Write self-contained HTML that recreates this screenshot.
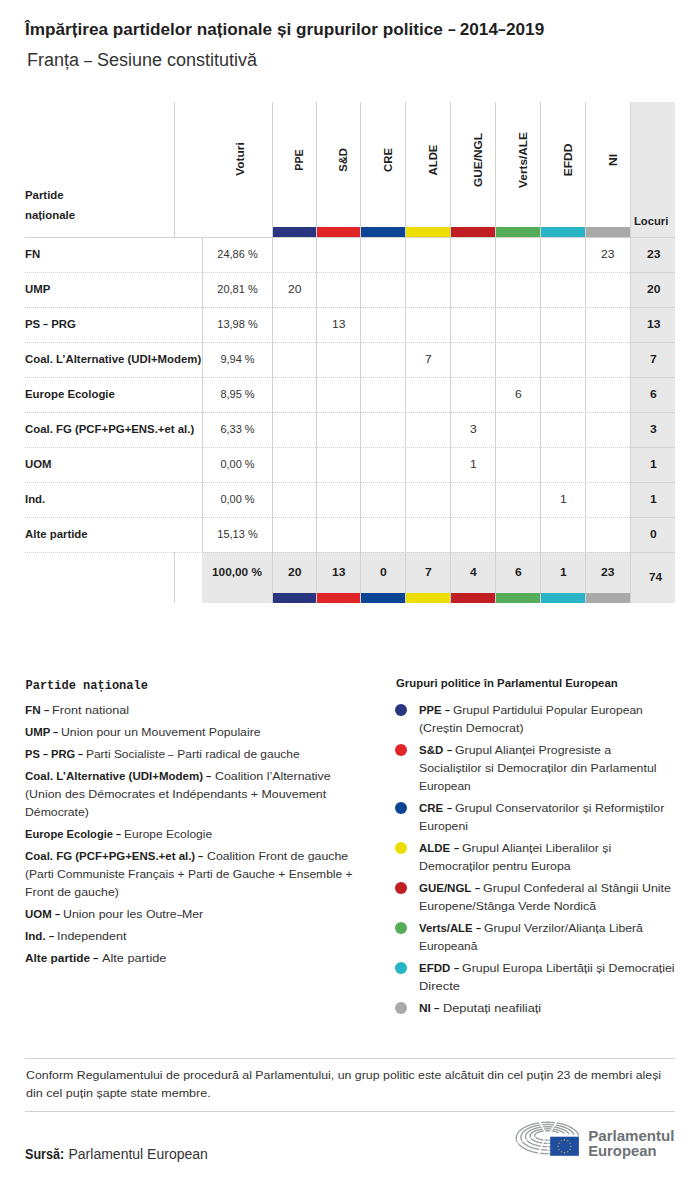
<!DOCTYPE html>
<html><head><meta charset="utf-8"><style>
html,body{margin:0;padding:0;background:#fff;}
body{width:700px;height:1179px;position:relative;overflow:hidden;font-family:"Liberation Sans", sans-serif;}
.t{position:absolute;white-space:nowrap;line-height:1;}
.r{position:absolute;}
.g{display:inline-block;white-space:pre;vertical-align:baseline;}
.i{display:inline-block;white-space:pre;transform-origin:0 0;}
</style></head><body>
<div class="t" style="left:25.00px;top:20.61px;font-size:17px;"><span class="g" style="width:422.66px;font-size:17px;font-weight:700;color:#1f1f1f;font-family:'Liberation Sans', sans-serif"><span class="i" style="transform:scaleX(1.0100)">Împărțirea partidelor naționale și grupurilor politice </span></span><span class="g" style="width:7.64px;font-size:17px;font-weight:700;color:#1f1f1f;font-family:'Liberation Sans', sans-serif"><span class="i" style="transform:scaleX(0.8080)">–</span></span><span class="g" style="width:42.97px;font-size:17px;font-weight:700;color:#1f1f1f;font-family:'Liberation Sans', sans-serif"><span class="i" style="transform:scaleX(1.0100)"> 2014</span></span><span class="g" style="width:7.64px;font-size:17px;font-weight:700;color:#1f1f1f;font-family:'Liberation Sans', sans-serif"><span class="i" style="transform:scaleX(0.8080)">–</span></span><span class="g" style="width:38.20px;font-size:17px;font-weight:700;color:#1f1f1f;font-family:'Liberation Sans', sans-serif"><span class="i" style="transform:scaleX(1.0100)">2019</span></span></div>
<div class="t" style="left:27.00px;top:51.36px;font-size:18px;"><span class="g" style="width:57.02px;font-size:18px;font-weight:400;color:#333333;font-family:'Liberation Sans', sans-serif"><span class="i" style="transform:scaleX(0.9999)">Franța </span></span><span class="g" style="width:8.01px;font-size:18px;font-weight:400;color:#333333;font-family:'Liberation Sans', sans-serif"><span class="i" style="transform:scaleX(0.7999)">–</span></span><span class="g" style="width:165.08px;font-size:18px;font-weight:400;color:#333333;font-family:'Liberation Sans', sans-serif"><span class="i" style="transform:scaleX(0.9999)"> Sesiune constitutivă</span></span></div>
<div class="r" style="left:630px;top:102px;width:45px;height:501px;background:#e8e8e8;"></div>
<div class="r" style="left:202px;top:552px;width:428px;height:51px;background:#e8e8e8;"></div>
<div class="r" style="left:174px;top:102px;width:1px;height:135px;background:#d2d2d2;"></div>
<div class="r" style="left:272px;top:102px;width:1px;height:501px;background:#d2d2d2;"></div>
<div class="r" style="left:316px;top:102px;width:1px;height:501px;background:#d2d2d2;"></div>
<div class="r" style="left:360px;top:102px;width:1px;height:501px;background:#d2d2d2;"></div>
<div class="r" style="left:405px;top:102px;width:1px;height:501px;background:#d2d2d2;"></div>
<div class="r" style="left:450px;top:102px;width:1px;height:501px;background:#d2d2d2;"></div>
<div class="r" style="left:495px;top:102px;width:1px;height:501px;background:#d2d2d2;"></div>
<div class="r" style="left:540px;top:102px;width:1px;height:501px;background:#d2d2d2;"></div>
<div class="r" style="left:585px;top:102px;width:1px;height:501px;background:#d2d2d2;"></div>
<div class="r" style="left:630px;top:102px;width:1px;height:501px;background:#d2d2d2;"></div>
<div class="r" style="left:202px;top:237px;width:1px;height:315px;background:#d2d2d2;"></div>
<div class="r" style="left:174px;top:552px;width:1px;height:51px;background:#d2d2d2;"></div>
<div class="r" style="left:25px;top:237px;width:650px;height:1px;background:#d2d2d2;"></div>
<div class="r" style="left:25px;top:272px;width:605px;height:1px;background-image:linear-gradient(to right,#d2d2d2 50%,transparent 50%);background-size:2px 1px;"></div>
<div class="r" style="left:630px;top:272px;width:45px;height:1px;background:#d2d2d2;"></div>
<div class="r" style="left:25px;top:307px;width:605px;height:1px;background-image:linear-gradient(to right,#d2d2d2 50%,transparent 50%);background-size:2px 1px;"></div>
<div class="r" style="left:630px;top:307px;width:45px;height:1px;background:#d2d2d2;"></div>
<div class="r" style="left:25px;top:342px;width:605px;height:1px;background-image:linear-gradient(to right,#d2d2d2 50%,transparent 50%);background-size:2px 1px;"></div>
<div class="r" style="left:630px;top:342px;width:45px;height:1px;background:#d2d2d2;"></div>
<div class="r" style="left:25px;top:377px;width:605px;height:1px;background-image:linear-gradient(to right,#d2d2d2 50%,transparent 50%);background-size:2px 1px;"></div>
<div class="r" style="left:630px;top:377px;width:45px;height:1px;background:#d2d2d2;"></div>
<div class="r" style="left:25px;top:412px;width:605px;height:1px;background-image:linear-gradient(to right,#d2d2d2 50%,transparent 50%);background-size:2px 1px;"></div>
<div class="r" style="left:630px;top:412px;width:45px;height:1px;background:#d2d2d2;"></div>
<div class="r" style="left:25px;top:447px;width:605px;height:1px;background-image:linear-gradient(to right,#d2d2d2 50%,transparent 50%);background-size:2px 1px;"></div>
<div class="r" style="left:630px;top:447px;width:45px;height:1px;background:#d2d2d2;"></div>
<div class="r" style="left:25px;top:482px;width:605px;height:1px;background-image:linear-gradient(to right,#d2d2d2 50%,transparent 50%);background-size:2px 1px;"></div>
<div class="r" style="left:630px;top:482px;width:45px;height:1px;background:#d2d2d2;"></div>
<div class="r" style="left:25px;top:517px;width:605px;height:1px;background-image:linear-gradient(to right,#d2d2d2 50%,transparent 50%);background-size:2px 1px;"></div>
<div class="r" style="left:630px;top:517px;width:45px;height:1px;background:#d2d2d2;"></div>
<div class="r" style="left:25px;top:552px;width:605px;height:1px;background-image:linear-gradient(to right,#d2d2d2 50%,transparent 50%);background-size:2px 1px;"></div>
<div class="r" style="left:630px;top:552px;width:45px;height:1px;background:#d2d2d2;"></div>
<div class="r" style="left:273px;top:227px;width:43px;height:10px;background:#2a3580;"></div>
<div class="r" style="left:273px;top:593px;width:43px;height:10px;background:#2a3580;"></div>
<div class="r" style="left:317px;top:227px;width:43px;height:10px;background:#e02428;"></div>
<div class="r" style="left:317px;top:593px;width:43px;height:10px;background:#e02428;"></div>
<div class="r" style="left:361px;top:227px;width:44px;height:10px;background:#0d4494;"></div>
<div class="r" style="left:361px;top:593px;width:44px;height:10px;background:#0d4494;"></div>
<div class="r" style="left:406px;top:227px;width:44px;height:10px;background:#ecdf00;"></div>
<div class="r" style="left:406px;top:593px;width:44px;height:10px;background:#ecdf00;"></div>
<div class="r" style="left:451px;top:227px;width:44px;height:10px;background:#c01e22;"></div>
<div class="r" style="left:451px;top:593px;width:44px;height:10px;background:#c01e22;"></div>
<div class="r" style="left:496px;top:227px;width:44px;height:10px;background:#55ad5a;"></div>
<div class="r" style="left:496px;top:593px;width:44px;height:10px;background:#55ad5a;"></div>
<div class="r" style="left:541px;top:227px;width:44px;height:10px;background:#27b5c5;"></div>
<div class="r" style="left:541px;top:593px;width:44px;height:10px;background:#27b5c5;"></div>
<div class="r" style="left:586px;top:227px;width:44px;height:10px;background:#a9a9a9;"></div>
<div class="r" style="left:586px;top:593px;width:44px;height:10px;background:#a9a9a9;"></div>
<div class="t" style="left:239.5px;top:159px;font-size:11px;font-weight:700;color:#1f1f1f;transform:translate(-50%,-50%) rotate(-90deg) scaleX(1.08);">Voturi</div>
<div class="t" style="left:299.3px;top:159.7px;font-size:11px;font-weight:700;color:#1f1f1f;transform:translate(-50%,-50%) rotate(-90deg) scaleX(0.97);">PPE</div>
<div class="t" style="left:343.3px;top:159.7px;font-size:11px;font-weight:700;color:#1f1f1f;transform:translate(-50%,-50%) rotate(-90deg) scaleX(1.02);">S&amp;D</div>
<div class="t" style="left:387.8px;top:159.7px;font-size:11px;font-weight:700;color:#1f1f1f;transform:translate(-50%,-50%) rotate(-90deg) scaleX(1.03);">CRE</div>
<div class="t" style="left:432.8px;top:159.7px;font-size:11px;font-weight:700;color:#1f1f1f;transform:translate(-50%,-50%) rotate(-90deg) scaleX(1.03);">ALDE</div>
<div class="t" style="left:477.8px;top:159.7px;font-size:11px;font-weight:700;color:#1f1f1f;transform:translate(-50%,-50%) rotate(-90deg) scaleX(1.08);">GUE/NGL</div>
<div class="t" style="left:522.8px;top:159.7px;font-size:11px;font-weight:700;color:#1f1f1f;transform:translate(-50%,-50%) rotate(-90deg) scaleX(1.075);">Verts/ALE</div>
<div class="t" style="left:567.8px;top:159.7px;font-size:11px;font-weight:700;color:#1f1f1f;transform:translate(-50%,-50%) rotate(-90deg) scaleX(1.09);">EFDD</div>
<div class="t" style="left:612.8px;top:159.7px;font-size:11px;font-weight:700;color:#1f1f1f;transform:translate(-50%,-50%) rotate(-90deg) scaleX(1.1);">NI</div>
<div class="t" style="left:25.00px;top:189.69px;font-size:11px;"><span class="g" style="width:38.60px;font-size:11px;font-weight:700;color:#1f1f1f;font-family:'Liberation Sans', sans-serif"><span class="i" style="transform:scaleX(1.0350)">Partide</span></span></div>
<div class="t" style="left:25.00px;top:210.19px;font-size:11px;"><span class="g" style="width:49.98px;font-size:11px;font-weight:700;color:#1f1f1f;font-family:'Liberation Sans', sans-serif"><span class="i" style="transform:scaleX(1.0350)">naționale</span></span></div>
<div class="t" style="left:634.06px;top:215.69px;font-size:11px;"><span class="g" style="width:34.29px;font-size:11px;font-weight:700;color:#1f1f1f;font-family:'Liberation Sans', sans-serif"><span class="i" style="transform:scaleX(1.0200)">Locuri</span></span></div>
<div class="t" style="left:25.00px;top:248.69px;font-size:11px;"><span class="g" style="width:15.18px;font-size:11px;font-weight:700;color:#1f1f1f;font-family:'Liberation Sans', sans-serif"><span class="i" style="transform:scaleX(1.0350)">FN</span></span></div>
<div class="t" style="left:217.32px;top:248.69px;font-size:11px;"><span class="g" style="width:40.36px;font-size:11px;font-weight:400;color:#333333;font-family:'Liberation Sans', sans-serif"><span class="i" style="transform:scaleX(1.0000)">24,86 %</span></span></div>
<div class="t" style="left:601.27px;top:248.69px;font-size:11px;"><span class="g" style="width:13.46px;font-size:11px;font-weight:400;color:#333333;font-family:'Liberation Sans', sans-serif"><span class="i" style="transform:scaleX(1.1000)">23</span></span></div>
<div class="t" style="left:646.57px;top:248.69px;font-size:11px;"><span class="g" style="width:13.46px;font-size:11px;font-weight:700;color:#1f1f1f;font-family:'Liberation Sans', sans-serif"><span class="i" style="transform:scaleX(1.1000)">23</span></span></div>
<div class="t" style="left:25.00px;top:283.69px;font-size:11px;"><span class="g" style="width:25.30px;font-size:11px;font-weight:700;color:#1f1f1f;font-family:'Liberation Sans', sans-serif"><span class="i" style="transform:scaleX(1.0350)">UMP</span></span></div>
<div class="t" style="left:217.32px;top:283.69px;font-size:11px;"><span class="g" style="width:40.36px;font-size:11px;font-weight:400;color:#333333;font-family:'Liberation Sans', sans-serif"><span class="i" style="transform:scaleX(1.0000)">20,81 %</span></span></div>
<div class="t" style="left:287.77px;top:283.69px;font-size:11px;"><span class="g" style="width:13.46px;font-size:11px;font-weight:400;color:#333333;font-family:'Liberation Sans', sans-serif"><span class="i" style="transform:scaleX(1.1000)">20</span></span></div>
<div class="t" style="left:646.57px;top:283.69px;font-size:11px;"><span class="g" style="width:13.46px;font-size:11px;font-weight:700;color:#1f1f1f;font-family:'Liberation Sans', sans-serif"><span class="i" style="transform:scaleX(1.1000)">20</span></span></div>
<div class="t" style="left:25.00px;top:318.69px;font-size:11px;"><span class="g" style="width:18.35px;font-size:11px;font-weight:700;color:#1f1f1f;font-family:'Liberation Sans', sans-serif"><span class="i" style="transform:scaleX(1.0350)">PS </span></span><span class="g" style="width:5.07px;font-size:11px;font-weight:700;color:#1f1f1f;font-family:'Liberation Sans', sans-serif"><span class="i" style="transform:scaleX(0.8280)">–</span></span><span class="g" style="width:27.83px;font-size:11px;font-weight:700;color:#1f1f1f;font-family:'Liberation Sans', sans-serif"><span class="i" style="transform:scaleX(1.0350)"> PRG</span></span></div>
<div class="t" style="left:217.32px;top:318.69px;font-size:11px;"><span class="g" style="width:40.36px;font-size:11px;font-weight:400;color:#333333;font-family:'Liberation Sans', sans-serif"><span class="i" style="transform:scaleX(1.0000)">13,98 %</span></span></div>
<div class="t" style="left:331.77px;top:318.69px;font-size:11px;"><span class="g" style="width:13.46px;font-size:11px;font-weight:400;color:#333333;font-family:'Liberation Sans', sans-serif"><span class="i" style="transform:scaleX(1.1000)">13</span></span></div>
<div class="t" style="left:646.57px;top:318.69px;font-size:11px;"><span class="g" style="width:13.46px;font-size:11px;font-weight:700;color:#1f1f1f;font-family:'Liberation Sans', sans-serif"><span class="i" style="transform:scaleX(1.1000)">13</span></span></div>
<div class="t" style="left:25.00px;top:353.69px;font-size:11px;"><span class="g" style="width:176.18px;font-size:11px;font-weight:700;color:#1f1f1f;font-family:'Liberation Sans', sans-serif"><span class="i" style="transform:scaleX(1.0350)">Coal. L’Alternative (UDI+Modem)</span></span></div>
<div class="t" style="left:220.38px;top:353.69px;font-size:11px;"><span class="g" style="width:34.25px;font-size:11px;font-weight:400;color:#333333;font-family:'Liberation Sans', sans-serif"><span class="i" style="transform:scaleX(1.0000)">9,94 %</span></span></div>
<div class="t" style="left:424.64px;top:353.69px;font-size:11px;"><span class="g" style="width:6.73px;font-size:11px;font-weight:400;color:#333333;font-family:'Liberation Sans', sans-serif"><span class="i" style="transform:scaleX(1.1000)">7</span></span></div>
<div class="t" style="left:649.94px;top:353.69px;font-size:11px;"><span class="g" style="width:6.73px;font-size:11px;font-weight:700;color:#1f1f1f;font-family:'Liberation Sans', sans-serif"><span class="i" style="transform:scaleX(1.1000)">7</span></span></div>
<div class="t" style="left:25.00px;top:388.69px;font-size:11px;"><span class="g" style="width:89.83px;font-size:11px;font-weight:700;color:#1f1f1f;font-family:'Liberation Sans', sans-serif"><span class="i" style="transform:scaleX(1.0350)">Europe Ecologie</span></span></div>
<div class="t" style="left:220.38px;top:388.69px;font-size:11px;"><span class="g" style="width:34.25px;font-size:11px;font-weight:400;color:#333333;font-family:'Liberation Sans', sans-serif"><span class="i" style="transform:scaleX(1.0000)">8,95 %</span></span></div>
<div class="t" style="left:514.64px;top:388.69px;font-size:11px;"><span class="g" style="width:6.73px;font-size:11px;font-weight:400;color:#333333;font-family:'Liberation Sans', sans-serif"><span class="i" style="transform:scaleX(1.1000)">6</span></span></div>
<div class="t" style="left:649.94px;top:388.69px;font-size:11px;"><span class="g" style="width:6.73px;font-size:11px;font-weight:700;color:#1f1f1f;font-family:'Liberation Sans', sans-serif"><span class="i" style="transform:scaleX(1.1000)">6</span></span></div>
<div class="t" style="left:25.00px;top:423.69px;font-size:11px;"><span class="g" style="width:169.24px;font-size:11px;font-weight:700;color:#1f1f1f;font-family:'Liberation Sans', sans-serif"><span class="i" style="transform:scaleX(1.0350)">Coal. FG (PCF+PG+ENS.+et al.)</span></span></div>
<div class="t" style="left:220.38px;top:423.69px;font-size:11px;"><span class="g" style="width:34.25px;font-size:11px;font-weight:400;color:#333333;font-family:'Liberation Sans', sans-serif"><span class="i" style="transform:scaleX(1.0000)">6,33 %</span></span></div>
<div class="t" style="left:469.64px;top:423.69px;font-size:11px;"><span class="g" style="width:6.73px;font-size:11px;font-weight:400;color:#333333;font-family:'Liberation Sans', sans-serif"><span class="i" style="transform:scaleX(1.1000)">3</span></span></div>
<div class="t" style="left:649.94px;top:423.69px;font-size:11px;"><span class="g" style="width:6.73px;font-size:11px;font-weight:700;color:#1f1f1f;font-family:'Liberation Sans', sans-serif"><span class="i" style="transform:scaleX(1.1000)">3</span></span></div>
<div class="t" style="left:25.00px;top:458.69px;font-size:11px;"><span class="g" style="width:26.56px;font-size:11px;font-weight:700;color:#1f1f1f;font-family:'Liberation Sans', sans-serif"><span class="i" style="transform:scaleX(1.0350)">UOM</span></span></div>
<div class="t" style="left:220.38px;top:458.69px;font-size:11px;"><span class="g" style="width:34.25px;font-size:11px;font-weight:400;color:#333333;font-family:'Liberation Sans', sans-serif"><span class="i" style="transform:scaleX(1.0000)">0,00 %</span></span></div>
<div class="t" style="left:469.64px;top:458.69px;font-size:11px;"><span class="g" style="width:6.73px;font-size:11px;font-weight:400;color:#333333;font-family:'Liberation Sans', sans-serif"><span class="i" style="transform:scaleX(1.1000)">1</span></span></div>
<div class="t" style="left:649.94px;top:458.69px;font-size:11px;"><span class="g" style="width:6.73px;font-size:11px;font-weight:700;color:#1f1f1f;font-family:'Liberation Sans', sans-serif"><span class="i" style="transform:scaleX(1.1000)">1</span></span></div>
<div class="t" style="left:25.00px;top:493.69px;font-size:11px;"><span class="g" style="width:20.24px;font-size:11px;font-weight:700;color:#1f1f1f;font-family:'Liberation Sans', sans-serif"><span class="i" style="transform:scaleX(1.0350)">Ind.</span></span></div>
<div class="t" style="left:220.38px;top:493.69px;font-size:11px;"><span class="g" style="width:34.25px;font-size:11px;font-weight:400;color:#333333;font-family:'Liberation Sans', sans-serif"><span class="i" style="transform:scaleX(1.0000)">0,00 %</span></span></div>
<div class="t" style="left:559.64px;top:493.69px;font-size:11px;"><span class="g" style="width:6.73px;font-size:11px;font-weight:400;color:#333333;font-family:'Liberation Sans', sans-serif"><span class="i" style="transform:scaleX(1.1000)">1</span></span></div>
<div class="t" style="left:649.94px;top:493.69px;font-size:11px;"><span class="g" style="width:6.73px;font-size:11px;font-weight:700;color:#1f1f1f;font-family:'Liberation Sans', sans-serif"><span class="i" style="transform:scaleX(1.1000)">1</span></span></div>
<div class="t" style="left:25.00px;top:528.69px;font-size:11px;"><span class="g" style="width:62.63px;font-size:11px;font-weight:700;color:#1f1f1f;font-family:'Liberation Sans', sans-serif"><span class="i" style="transform:scaleX(1.0350)">Alte partide</span></span></div>
<div class="t" style="left:217.32px;top:528.69px;font-size:11px;"><span class="g" style="width:40.36px;font-size:11px;font-weight:400;color:#333333;font-family:'Liberation Sans', sans-serif"><span class="i" style="transform:scaleX(1.0000)">15,13 %</span></span></div>
<div class="t" style="left:649.94px;top:528.69px;font-size:11px;"><span class="g" style="width:6.73px;font-size:11px;font-weight:700;color:#1f1f1f;font-family:'Liberation Sans', sans-serif"><span class="i" style="transform:scaleX(1.1000)">0</span></span></div>
<div class="t" style="left:212.42px;top:567.19px;font-size:11px;"><span class="g" style="width:49.97px;font-size:11px;font-weight:700;color:#1f1f1f;font-family:'Liberation Sans', sans-serif"><span class="i" style="transform:scaleX(1.0750)">100,00 %</span></span></div>
<div class="t" style="left:287.77px;top:567.19px;font-size:11px;"><span class="g" style="width:13.46px;font-size:11px;font-weight:700;color:#1f1f1f;font-family:'Liberation Sans', sans-serif"><span class="i" style="transform:scaleX(1.1000)">20</span></span></div>
<div class="t" style="left:331.77px;top:567.19px;font-size:11px;"><span class="g" style="width:13.46px;font-size:11px;font-weight:700;color:#1f1f1f;font-family:'Liberation Sans', sans-serif"><span class="i" style="transform:scaleX(1.1000)">13</span></span></div>
<div class="t" style="left:379.64px;top:567.19px;font-size:11px;"><span class="g" style="width:6.73px;font-size:11px;font-weight:700;color:#1f1f1f;font-family:'Liberation Sans', sans-serif"><span class="i" style="transform:scaleX(1.1000)">0</span></span></div>
<div class="t" style="left:424.64px;top:567.19px;font-size:11px;"><span class="g" style="width:6.73px;font-size:11px;font-weight:700;color:#1f1f1f;font-family:'Liberation Sans', sans-serif"><span class="i" style="transform:scaleX(1.1000)">7</span></span></div>
<div class="t" style="left:469.64px;top:567.19px;font-size:11px;"><span class="g" style="width:6.73px;font-size:11px;font-weight:700;color:#1f1f1f;font-family:'Liberation Sans', sans-serif"><span class="i" style="transform:scaleX(1.1000)">4</span></span></div>
<div class="t" style="left:514.64px;top:567.19px;font-size:11px;"><span class="g" style="width:6.73px;font-size:11px;font-weight:700;color:#1f1f1f;font-family:'Liberation Sans', sans-serif"><span class="i" style="transform:scaleX(1.1000)">6</span></span></div>
<div class="t" style="left:559.64px;top:567.19px;font-size:11px;"><span class="g" style="width:6.73px;font-size:11px;font-weight:700;color:#1f1f1f;font-family:'Liberation Sans', sans-serif"><span class="i" style="transform:scaleX(1.1000)">1</span></span></div>
<div class="t" style="left:601.27px;top:567.19px;font-size:11px;"><span class="g" style="width:13.46px;font-size:11px;font-weight:700;color:#1f1f1f;font-family:'Liberation Sans', sans-serif"><span class="i" style="transform:scaleX(1.1000)">23</span></span></div>
<div class="t" style="left:648.85px;top:572.19px;font-size:11px;"><span class="g" style="width:13.09px;font-size:11px;font-weight:700;color:#1f1f1f;font-family:'Liberation Sans', sans-serif"><span class="i" style="transform:scaleX(1.0700)">74</span></span></div>
<div class="t" style="left:25.50px;top:679.24px;font-size:12px;"><span class="g" style="width:122.43px;font-size:12px;font-weight:700;color:#1f1f1f;font-family:'Liberation Mono', monospace"><span class="i" style="transform:scaleX(1.0000)">Partide naționale</span></span></div>
<div class="t" style="left:25.00px;top:705.29px;font-size:11px;"><span class="g" style="width:18.84px;font-size:11px;font-weight:700;color:#1f1f1f;font-family:'Liberation Sans', sans-serif"><span class="i" style="transform:scaleX(1.0632)">FN </span></span><span class="g" style="width:5.20px;font-size:11px;font-weight:700;color:#1f1f1f;font-family:'Liberation Sans', sans-serif"><span class="i" style="transform:scaleX(0.8506)">–</span></span><span class="g" style="width:3.25px;font-size:11px;font-weight:700;color:#1f1f1f;font-family:'Liberation Sans', sans-serif"><span class="i" style="transform:scaleX(1.0632)"> </span></span><span class="g" style="width:77.01px;font-size:11.5px;font-weight:400;color:#333333;font-family:'Liberation Sans', sans-serif"><span class="i" style="transform:scaleX(1.0951)">Front national</span></span></div>
<div class="t" style="left:25.00px;top:727.29px;font-size:11px;"><span class="g" style="width:28.24px;font-size:11px;font-weight:700;color:#1f1f1f;font-family:'Liberation Sans', sans-serif"><span class="i" style="transform:scaleX(1.0343)">UMP </span></span><span class="g" style="width:5.06px;font-size:11px;font-weight:700;color:#1f1f1f;font-family:'Liberation Sans', sans-serif"><span class="i" style="transform:scaleX(0.8274)">–</span></span><span class="g" style="width:3.16px;font-size:11px;font-weight:700;color:#1f1f1f;font-family:'Liberation Sans', sans-serif"><span class="i" style="transform:scaleX(1.0343)"> </span></span><span class="g" style="width:199.54px;font-size:11.5px;font-weight:400;color:#333333;font-family:'Liberation Sans', sans-serif"><span class="i" style="transform:scaleX(1.0653)">Union pour un Mouvement Populaire</span></span></div>
<div class="t" style="left:25.00px;top:749.29px;font-size:11px;"><span class="g" style="width:17.89px;font-size:11px;font-weight:700;color:#1f1f1f;font-family:'Liberation Sans', sans-serif"><span class="i" style="transform:scaleX(1.0089)">PS </span></span><span class="g" style="width:4.94px;font-size:11px;font-weight:700;color:#1f1f1f;font-family:'Liberation Sans', sans-serif"><span class="i" style="transform:scaleX(0.8072)">–</span></span><span class="g" style="width:30.22px;font-size:11px;font-weight:700;color:#1f1f1f;font-family:'Liberation Sans', sans-serif"><span class="i" style="transform:scaleX(1.0089)"> PRG </span></span><span class="g" style="width:4.94px;font-size:11px;font-weight:700;color:#1f1f1f;font-family:'Liberation Sans', sans-serif"><span class="i" style="transform:scaleX(0.8072)">–</span></span><span class="g" style="width:3.08px;font-size:11px;font-weight:700;color:#1f1f1f;font-family:'Liberation Sans', sans-serif"><span class="i" style="transform:scaleX(1.0089)"> </span></span><span class="g" style="width:82.36px;font-size:11.5px;font-weight:400;color:#333333;font-family:'Liberation Sans', sans-serif"><span class="i" style="transform:scaleX(1.0392)">Parti Socialiste </span></span><span class="g" style="width:5.32px;font-size:11.5px;font-weight:400;color:#333333;font-family:'Liberation Sans', sans-serif"><span class="i" style="transform:scaleX(0.8313)">–</span></span><span class="g" style="width:125.56px;font-size:11.5px;font-weight:400;color:#333333;font-family:'Liberation Sans', sans-serif"><span class="i" style="transform:scaleX(1.0392)"> Parti radical de gauche</span></span></div>
<div class="t" style="left:25.00px;top:771.29px;font-size:11px;"><span class="g" style="width:181.28px;font-size:11px;font-weight:700;color:#1f1f1f;font-family:'Liberation Sans', sans-serif"><span class="i" style="transform:scaleX(1.0461)">Coal. L’Alternative (UDI+Modem) </span></span><span class="g" style="width:5.12px;font-size:11px;font-weight:700;color:#1f1f1f;font-family:'Liberation Sans', sans-serif"><span class="i" style="transform:scaleX(0.8369)">–</span></span><span class="g" style="width:3.20px;font-size:11px;font-weight:700;color:#1f1f1f;font-family:'Liberation Sans', sans-serif"><span class="i" style="transform:scaleX(1.0461)"> </span></span><span class="g" style="width:115.71px;font-size:11.5px;font-weight:400;color:#333333;font-family:'Liberation Sans', sans-serif"><span class="i" style="transform:scaleX(1.0775)">Coalition l’Alternative</span></span></div>
<div class="t" style="left:25.00px;top:789.29px;font-size:11px;"><span class="g" style="width:301.20px;font-size:11.5px;font-weight:400;color:#333333;font-family:'Liberation Sans', sans-serif"><span class="i" style="transform:scaleX(1.0769)">(Union des Démocrates et Indépendants + Mouvement</span></span></div>
<div class="t" style="left:25.00px;top:807.29px;font-size:11px;"><span class="g" style="width:63.90px;font-size:11.5px;font-weight:400;color:#333333;font-family:'Liberation Sans', sans-serif"><span class="i" style="transform:scaleX(1.0637)">Démocrate)</span></span></div>
<div class="t" style="left:25.00px;top:829.29px;font-size:11px;"><span class="g" style="width:91.10px;font-size:11px;font-weight:700;color:#1f1f1f;font-family:'Liberation Sans', sans-serif"><span class="i" style="transform:scaleX(1.0140)">Europe Ecologie </span></span><span class="g" style="width:4.96px;font-size:11px;font-weight:700;color:#1f1f1f;font-family:'Liberation Sans', sans-serif"><span class="i" style="transform:scaleX(0.8112)">–</span></span><span class="g" style="width:3.10px;font-size:11px;font-weight:700;color:#1f1f1f;font-family:'Liberation Sans', sans-serif"><span class="i" style="transform:scaleX(1.0140)"> </span></span><span class="g" style="width:88.13px;font-size:11.5px;font-weight:400;color:#333333;font-family:'Liberation Sans', sans-serif"><span class="i" style="transform:scaleX(1.0443)">Europe Ecologie</span></span></div>
<div class="t" style="left:25.00px;top:851.29px;font-size:11px;"><span class="g" style="width:173.36px;font-size:11px;font-weight:700;color:#1f1f1f;font-family:'Liberation Sans', sans-serif"><span class="i" style="transform:scaleX(1.0407)">Coal. FG (PCF+PG+ENS.+et al.) </span></span><span class="g" style="width:5.09px;font-size:11px;font-weight:700;color:#1f1f1f;font-family:'Liberation Sans', sans-serif"><span class="i" style="transform:scaleX(0.8326)">–</span></span><span class="g" style="width:3.18px;font-size:11px;font-weight:700;color:#1f1f1f;font-family:'Liberation Sans', sans-serif"><span class="i" style="transform:scaleX(1.0407)"> </span></span><span class="g" style="width:141.17px;font-size:11.5px;font-weight:400;color:#333333;font-family:'Liberation Sans', sans-serif"><span class="i" style="transform:scaleX(1.0719)">Coalition Front de gauche</span></span></div>
<div class="t" style="left:25.00px;top:869.29px;font-size:11px;"><span class="g" style="width:327.60px;font-size:11.5px;font-weight:400;color:#333333;font-family:'Liberation Sans', sans-serif"><span class="i" style="transform:scaleX(1.0470)">(Parti Communiste Français + Parti de Gauche + Ensemble +</span></span></div>
<div class="t" style="left:25.00px;top:887.29px;font-size:11px;"><span class="g" style="width:93.90px;font-size:11.5px;font-weight:400;color:#333333;font-family:'Liberation Sans', sans-serif"><span class="i" style="transform:scaleX(1.0721)">Front de gauche)</span></span></div>
<div class="t" style="left:25.00px;top:909.29px;font-size:11px;"><span class="g" style="width:29.89px;font-size:11px;font-weight:700;color:#1f1f1f;font-family:'Liberation Sans', sans-serif"><span class="i" style="transform:scaleX(1.0406)">UOM </span></span><span class="g" style="width:5.09px;font-size:11px;font-weight:700;color:#1f1f1f;font-family:'Liberation Sans', sans-serif"><span class="i" style="transform:scaleX(0.8325)">–</span></span><span class="g" style="width:3.18px;font-size:11px;font-weight:700;color:#1f1f1f;font-family:'Liberation Sans', sans-serif"><span class="i" style="transform:scaleX(1.0406)"> </span></span><span class="g" style="width:113.73px;font-size:11.5px;font-weight:400;color:#333333;font-family:'Liberation Sans', sans-serif"><span class="i" style="transform:scaleX(1.0718)">Union pour les Outre</span></span><span class="g" style="width:5.48px;font-size:11.5px;font-weight:400;color:#333333;font-family:'Liberation Sans', sans-serif"><span class="i" style="transform:scaleX(0.8574)">–</span></span><span class="g" style="width:21.23px;font-size:11.5px;font-weight:400;color:#333333;font-family:'Liberation Sans', sans-serif"><span class="i" style="transform:scaleX(1.0718)">Mer</span></span></div>
<div class="t" style="left:25.00px;top:931.29px;font-size:11px;"><span class="g" style="width:23.82px;font-size:11px;font-weight:700;color:#1f1f1f;font-family:'Liberation Sans', sans-serif"><span class="i" style="transform:scaleX(1.0536)">Ind. </span></span><span class="g" style="width:5.16px;font-size:11px;font-weight:700;color:#1f1f1f;font-family:'Liberation Sans', sans-serif"><span class="i" style="transform:scaleX(0.8429)">–</span></span><span class="g" style="width:3.22px;font-size:11px;font-weight:700;color:#1f1f1f;font-family:'Liberation Sans', sans-serif"><span class="i" style="transform:scaleX(1.0536)"> </span></span><span class="g" style="width:69.40px;font-size:11.5px;font-weight:400;color:#333333;font-family:'Liberation Sans', sans-serif"><span class="i" style="transform:scaleX(1.0852)">Independent</span></span></div>
<div class="t" style="left:25.00px;top:953.29px;font-size:11px;"><span class="g" style="width:68.29px;font-size:11px;font-weight:700;color:#1f1f1f;font-family:'Liberation Sans', sans-serif"><span class="i" style="transform:scaleX(1.0743)">Alte partide </span></span><span class="g" style="width:5.26px;font-size:11px;font-weight:700;color:#1f1f1f;font-family:'Liberation Sans', sans-serif"><span class="i" style="transform:scaleX(0.8594)">–</span></span><span class="g" style="width:3.28px;font-size:11px;font-weight:700;color:#1f1f1f;font-family:'Liberation Sans', sans-serif"><span class="i" style="transform:scaleX(1.0743)"> </span></span><span class="g" style="width:64.37px;font-size:11.5px;font-weight:400;color:#333333;font-family:'Liberation Sans', sans-serif"><span class="i" style="transform:scaleX(1.1065)">Alte partide</span></span></div>
<div class="t" style="left:395.50px;top:678.39px;font-size:11px;"><span class="g" style="width:221.70px;font-size:11px;font-weight:700;color:#1f1f1f;font-family:'Liberation Sans', sans-serif"><span class="i" style="transform:scaleX(1.0334)">Grupuri politice în Parlamentul European</span></span></div>
<div class="r" style="left:394.7px;top:704.00px;width:12px;height:12px;border-radius:50%;background:#2a3580;"></div>
<div class="t" style="left:419.30px;top:704.99px;font-size:11px;"><span class="g" style="width:25.44px;font-size:11px;font-weight:700;color:#1f1f1f;font-family:'Liberation Sans', sans-serif"><span class="i" style="transform:scaleX(1.0149)">PPE </span></span><span class="g" style="width:4.97px;font-size:11px;font-weight:700;color:#1f1f1f;font-family:'Liberation Sans', sans-serif"><span class="i" style="transform:scaleX(0.8119)">–</span></span><span class="g" style="width:3.10px;font-size:11px;font-weight:700;color:#1f1f1f;font-family:'Liberation Sans', sans-serif"><span class="i" style="transform:scaleX(1.0149)"> </span></span><span class="g" style="width:189.79px;font-size:11.5px;font-weight:400;color:#333333;font-family:'Liberation Sans', sans-serif"><span class="i" style="transform:scaleX(1.0453)">Grupul Partidului Popular European</span></span></div>
<div class="t" style="left:419.30px;top:722.99px;font-size:11px;"><span class="g" style="width:104.50px;font-size:11.5px;font-weight:400;color:#333333;font-family:'Liberation Sans', sans-serif"><span class="i" style="transform:scaleX(1.0759)">(Creștin Democrat)</span></span></div>
<div class="r" style="left:394.7px;top:744.00px;width:12px;height:12px;border-radius:50%;background:#e02428;"></div>
<div class="t" style="left:419.30px;top:744.99px;font-size:11px;"><span class="g" style="width:27.33px;font-size:11px;font-weight:700;color:#1f1f1f;font-family:'Liberation Sans', sans-serif"><span class="i" style="transform:scaleX(1.0399)">S&amp;D </span></span><span class="g" style="width:5.09px;font-size:11px;font-weight:700;color:#1f1f1f;font-family:'Liberation Sans', sans-serif"><span class="i" style="transform:scaleX(0.8319)">–</span></span><span class="g" style="width:3.18px;font-size:11px;font-weight:700;color:#1f1f1f;font-family:'Liberation Sans', sans-serif"><span class="i" style="transform:scaleX(1.0399)"> </span></span><span class="g" style="width:156.10px;font-size:11.5px;font-weight:400;color:#333333;font-family:'Liberation Sans', sans-serif"><span class="i" style="transform:scaleX(1.0710)">Grupul Alianței Progresiste a</span></span></div>
<div class="t" style="left:419.30px;top:762.99px;font-size:11px;"><span class="g" style="width:237.50px;font-size:11.5px;font-weight:400;color:#333333;font-family:'Liberation Sans', sans-serif"><span class="i" style="transform:scaleX(1.0740)">Socialiștilor si Democraților din Parlamentul</span></span></div>
<div class="t" style="left:419.30px;top:780.99px;font-size:11px;"><span class="g" style="width:51.70px;font-size:11.5px;font-weight:400;color:#333333;font-family:'Liberation Sans', sans-serif"><span class="i" style="transform:scaleX(1.0366)">European</span></span></div>
<div class="r" style="left:394.7px;top:802.00px;width:12px;height:12px;border-radius:50%;background:#0d4494;"></div>
<div class="t" style="left:419.30px;top:802.99px;font-size:11px;"><span class="g" style="width:27.40px;font-size:11px;font-weight:700;color:#1f1f1f;font-family:'Liberation Sans', sans-serif"><span class="i" style="transform:scaleX(1.0426)">CRE </span></span><span class="g" style="width:5.10px;font-size:11px;font-weight:700;color:#1f1f1f;font-family:'Liberation Sans', sans-serif"><span class="i" style="transform:scaleX(0.8341)">–</span></span><span class="g" style="width:3.19px;font-size:11px;font-weight:700;color:#1f1f1f;font-family:'Liberation Sans', sans-serif"><span class="i" style="transform:scaleX(1.0426)"> </span></span><span class="g" style="width:209.31px;font-size:11.5px;font-weight:400;color:#333333;font-family:'Liberation Sans', sans-serif"><span class="i" style="transform:scaleX(1.0738)">Grupul Conservatorilor și Reformiștilor</span></span></div>
<div class="t" style="left:419.30px;top:820.99px;font-size:11px;"><span class="g" style="width:48.90px;font-size:11.5px;font-weight:400;color:#333333;font-family:'Liberation Sans', sans-serif"><span class="i" style="transform:scaleX(1.0622)">Europeni</span></span></div>
<div class="r" style="left:394.7px;top:842.00px;width:12px;height:12px;border-radius:50%;background:#ecdf00;"></div>
<div class="t" style="left:419.30px;top:842.99px;font-size:11px;"><span class="g" style="width:34.29px;font-size:11px;font-weight:700;color:#1f1f1f;font-family:'Liberation Sans', sans-serif"><span class="i" style="transform:scaleX(1.0392)">ALDE </span></span><span class="g" style="width:5.09px;font-size:11px;font-weight:700;color:#1f1f1f;font-family:'Liberation Sans', sans-serif"><span class="i" style="transform:scaleX(0.8313)">–</span></span><span class="g" style="width:3.18px;font-size:11px;font-weight:700;color:#1f1f1f;font-family:'Liberation Sans', sans-serif"><span class="i" style="transform:scaleX(1.0392)"> </span></span><span class="g" style="width:149.15px;font-size:11.5px;font-weight:400;color:#333333;font-family:'Liberation Sans', sans-serif"><span class="i" style="transform:scaleX(1.0703)">Grupul Alianței Liberalilor și</span></span></div>
<div class="t" style="left:419.30px;top:860.99px;font-size:11px;"><span class="g" style="width:151.70px;font-size:11.5px;font-weight:400;color:#333333;font-family:'Liberation Sans', sans-serif"><span class="i" style="transform:scaleX(1.0739)">Democraților pentru Europa</span></span></div>
<div class="r" style="left:394.7px;top:882.00px;width:12px;height:12px;border-radius:50%;background:#c01e22;"></div>
<div class="t" style="left:419.30px;top:882.99px;font-size:11px;"><span class="g" style="width:55.38px;font-size:11px;font-weight:700;color:#1f1f1f;font-family:'Liberation Sans', sans-serif"><span class="i" style="transform:scaleX(1.0454)">GUE/NGL </span></span><span class="g" style="width:5.12px;font-size:11px;font-weight:700;color:#1f1f1f;font-family:'Liberation Sans', sans-serif"><span class="i" style="transform:scaleX(0.8363)">–</span></span><span class="g" style="width:3.20px;font-size:11px;font-weight:700;color:#1f1f1f;font-family:'Liberation Sans', sans-serif"><span class="i" style="transform:scaleX(1.0454)"> </span></span><span class="g" style="width:187.91px;font-size:11.5px;font-weight:400;color:#333333;font-family:'Liberation Sans', sans-serif"><span class="i" style="transform:scaleX(1.0767)">Grupul Confederal al Stângii Unite</span></span></div>
<div class="t" style="left:419.30px;top:900.99px;font-size:11px;"><span class="g" style="width:177.10px;font-size:11.5px;font-weight:400;color:#333333;font-family:'Liberation Sans', sans-serif"><span class="i" style="transform:scaleX(1.0695)">Europene/Stânga Verde Nordică</span></span></div>
<div class="r" style="left:394.7px;top:922.00px;width:12px;height:12px;border-radius:50%;background:#55ad5a;"></div>
<div class="t" style="left:419.30px;top:922.99px;font-size:11px;"><span class="g" style="width:56.74px;font-size:11px;font-weight:700;color:#1f1f1f;font-family:'Liberation Sans', sans-serif"><span class="i" style="transform:scaleX(1.0312)">Verts/ALE </span></span><span class="g" style="width:5.05px;font-size:11px;font-weight:700;color:#1f1f1f;font-family:'Liberation Sans', sans-serif"><span class="i" style="transform:scaleX(0.8249)">–</span></span><span class="g" style="width:3.15px;font-size:11px;font-weight:700;color:#1f1f1f;font-family:'Liberation Sans', sans-serif"><span class="i" style="transform:scaleX(1.0312)"> </span></span><span class="g" style="width:158.86px;font-size:11.5px;font-weight:400;color:#333333;font-family:'Liberation Sans', sans-serif"><span class="i" style="transform:scaleX(1.0621)">Grupul Verzilor/Alianța Liberă</span></span></div>
<div class="t" style="left:419.30px;top:940.99px;font-size:11px;"><span class="g" style="width:58.30px;font-size:11.5px;font-weight:400;color:#333333;font-family:'Liberation Sans', sans-serif"><span class="i" style="transform:scaleX(1.0360)">Europeană</span></span></div>
<div class="r" style="left:394.7px;top:962.00px;width:12px;height:12px;border-radius:50%;background:#27b5c5;"></div>
<div class="t" style="left:419.30px;top:962.99px;font-size:11px;"><span class="g" style="width:34.49px;font-size:11px;font-weight:700;color:#1f1f1f;font-family:'Liberation Sans', sans-serif"><span class="i" style="transform:scaleX(1.0451)">EFDD </span></span><span class="g" style="width:5.12px;font-size:11px;font-weight:700;color:#1f1f1f;font-family:'Liberation Sans', sans-serif"><span class="i" style="transform:scaleX(0.8361)">–</span></span><span class="g" style="width:3.19px;font-size:11px;font-weight:700;color:#1f1f1f;font-family:'Liberation Sans', sans-serif"><span class="i" style="transform:scaleX(1.0451)"> </span></span><span class="g" style="width:212.60px;font-size:11.5px;font-weight:400;color:#333333;font-family:'Liberation Sans', sans-serif"><span class="i" style="transform:scaleX(1.0764)">Grupul Europa Libertății și Democrației</span></span></div>
<div class="t" style="left:419.30px;top:980.99px;font-size:11px;"><span class="g" style="width:40.90px;font-size:11.5px;font-weight:400;color:#333333;font-family:'Liberation Sans', sans-serif"><span class="i" style="transform:scaleX(1.1228)">Directe</span></span></div>
<div class="r" style="left:394.7px;top:1002.00px;width:12px;height:12px;border-radius:50%;background:#a9a9a9;"></div>
<div class="t" style="left:419.30px;top:1002.99px;font-size:11px;"><span class="g" style="width:15.19px;font-size:11px;font-weight:700;color:#1f1f1f;font-family:'Liberation Sans', sans-serif"><span class="i" style="transform:scaleX(1.0809)">NI </span></span><span class="g" style="width:5.29px;font-size:11px;font-weight:700;color:#1f1f1f;font-family:'Liberation Sans', sans-serif"><span class="i" style="transform:scaleX(0.8647)">–</span></span><span class="g" style="width:3.30px;font-size:11px;font-weight:700;color:#1f1f1f;font-family:'Liberation Sans', sans-serif"><span class="i" style="transform:scaleX(1.0809)"> </span></span><span class="g" style="width:98.21px;font-size:11.5px;font-weight:400;color:#333333;font-family:'Liberation Sans', sans-serif"><span class="i" style="transform:scaleX(1.1132)">Deputați neafiliați</span></span></div>
<div class="r" style="left:25px;top:1058px;width:650px;height:1px;background:#d2d2d2;"></div>
<div class="t" style="left:25.50px;top:1070.09px;font-size:11px;"><span class="g" style="width:635.10px;font-size:11.5px;font-weight:400;color:#333333;font-family:'Liberation Sans', sans-serif"><span class="i" style="transform:scaleX(1.0740)">Conform Regulamentului de procedură al Parlamentului, un grup politic este alcătuit din cel puțin 23 de membri aleși</span></span></div>
<div class="t" style="left:25.50px;top:1088.09px;font-size:11px;"><span class="g" style="width:184.70px;font-size:11.5px;font-weight:400;color:#333333;font-family:'Liberation Sans', sans-serif"><span class="i" style="transform:scaleX(1.0903)">din cel puțin șapte state membre.</span></span></div>
<div class="r" style="left:25px;top:1111px;width:650px;height:1px;background:#d2d2d2;"></div>
<div class="t" style="left:25.40px;top:1147.15px;font-size:14px;"><span class="g" style="width:39.22px;font-size:14px;font-weight:700;color:#1f1f1f;font-family:'Liberation Sans', sans-serif"><span class="i" style="transform:scaleX(0.9000)">Sursă:</span></span><span class="g" style="width:143.20px;font-size:14px;font-weight:400;color:#333333;font-family:'Liberation Sans', sans-serif"><span class="i" style="transform:scaleX(1.0000)"> Parlamentul European</span></span></div>
<svg style="position:absolute;left:510px;top:1115px" width="175" height="50" viewBox="0 0 175 50">
<path d="M68.71 20.54 L68.62 20.27 L68.52 20.00 L68.41 19.74 L68.30 19.47 L68.17 19.20 L68.03 18.94 L67.88 18.67 L67.73 18.41 L67.56 18.15 L67.39 17.89 L67.21 17.63 L67.01 17.37 L66.81 17.12 L66.60 16.87 L66.39 16.61 L66.16 16.36 L65.92 16.12 L65.68 15.87 L65.42 15.63 L65.16 15.39 L64.89 15.15 L64.62 14.91 L64.33 14.68 L64.03 14.45 L63.73 14.22 L63.42 13.99 L63.10 13.77 L62.78 13.55 L62.44 13.33 L62.10 13.12 L61.75 12.91 L61.40 12.70 L61.03 12.49 L60.66 12.29 L60.29 12.09 L59.90 11.90 L59.51 11.71 L59.11 11.52 L58.71 11.33 L58.30 11.15 L57.88 10.97 L57.46 10.80 L57.03 10.63 L56.60 10.46 L56.16 10.30 L55.71 10.14 L55.26 9.98 L54.80 9.83 L54.34 9.69 L53.87 9.54 L53.40 9.40 L52.92 9.27 L52.44 9.14 L51.96 9.01 L51.46 8.89 L50.97 8.77 L50.47 8.66 L49.97 8.55 L49.46 8.44 L48.95 8.34 L48.44 8.25 L47.92 8.16 L47.40 8.07 L46.88 7.99 M44.76 7.70 L44.23 7.64 L43.69 7.59 L43.15 7.54 L42.61 7.49 L42.07 7.45 L41.53 7.42 L40.98 7.39 L40.44 7.36 L39.89 7.34 L39.34 7.32 L38.80 7.31 L38.25 7.30 L37.70 7.30 L37.15 7.30 L36.60 7.31 L36.06 7.32 L35.51 7.34 L34.96 7.36 L34.42 7.39 L33.87 7.42 L33.33 7.45 L32.79 7.49 L32.25 7.54 L31.71 7.59 L31.17 7.64 M29.04 7.91 L28.52 7.99 L28.00 8.07 L27.48 8.16 L26.96 8.25 L26.45 8.34 L25.94 8.44 L25.43 8.55 L24.93 8.66 L24.43 8.77 L23.94 8.89 L23.44 9.01 L22.96 9.14 L22.48 9.27 L22.00 9.40 L21.53 9.54 L21.06 9.69 L20.60 9.83 L20.14 9.98 L19.69 10.14 L19.24 10.30 L18.80 10.46 L18.37 10.63 L17.94 10.80 L17.52 10.97 L17.10 11.15 L16.69 11.33 L16.29 11.52 L15.89 11.71 L15.50 11.90 L15.11 12.09 L14.74 12.29 L14.37 12.49 L14.00 12.70 L13.65 12.91 L13.30 13.12 L12.96 13.33 L12.62 13.55 L12.30 13.77 L11.98 13.99 L11.67 14.22 L11.37 14.45 L11.07 14.68 L10.78 14.91 L10.51 15.15 L10.24 15.39 L9.98 15.63 L9.72 15.87 L9.48 16.12 L9.24 16.36 L9.01 16.61 L8.80 16.87 L8.59 17.12 L8.39 17.37 L8.19 17.63 L8.01 17.89 L7.84 18.15 L7.67 18.41 L7.52 18.67 L7.37 18.94 L7.23 19.20 L7.10 19.47 L6.99 19.74 L6.88 20.00 L6.78 20.27 L6.69 20.54 L6.61 20.81 L6.53 21.09 L6.47 21.36 L6.42 21.63 L6.38 21.90 L6.34 22.18 L6.32 22.45 L6.30 22.73 L6.30 23.00 L6.30 23.27 L6.32 23.55 L6.34 23.82 L6.38 24.10 L6.42 24.37 L6.47 24.64 L6.53 24.91 L6.61 25.19 L6.69 25.46 L6.78 25.73 L6.88 26.00 L6.99 26.26 L7.10 26.53 L7.23 26.80 L7.37 27.06 L7.52 27.33 M8.19 28.37 L8.39 28.63 L8.59 28.88 L8.80 29.13 L9.01 29.39 L9.24 29.64 L9.48 29.88 L9.72 30.13 L9.98 30.37 L10.24 30.61 L10.51 30.85 L10.78 31.09 L11.07 31.32 L11.37 31.55 L11.67 31.78 L11.98 32.01 L12.30 32.23 L12.62 32.45 L12.96 32.67 L13.30 32.88 L13.65 33.09 L14.00 33.30 L14.37 33.51 L14.74 33.71 L15.11 33.91 L15.50 34.10 L15.89 34.29 L16.29 34.48 L16.69 34.67 L17.10 34.85 L17.52 35.03 L17.94 35.20 L18.37 35.37 L18.80 35.54 L19.24 35.70 L19.69 35.86 L20.14 36.02 L20.60 36.17 L21.06 36.31 L21.53 36.46 L22.00 36.60 L22.48 36.73 L22.96 36.86 L23.44 36.99 L23.94 37.11 L24.43 37.23 L24.93 37.34 L25.43 37.45 L25.94 37.56 L26.45 37.66 L26.96 37.75 L27.48 37.84 L28.00 37.93 M30.10 38.23 L30.64 38.30 L31.17 38.36 L31.71 38.41 L32.25 38.46 L32.79 38.51 L33.33 38.55 L33.87 38.58 L34.42 38.61 L34.96 38.64 L35.51 38.66 L36.06 38.68 L36.60 38.69 L37.15 38.70 L37.70 38.70 M38.50 38.70 L40.20 38.70 M63.94 19.70 L63.84 19.48 L63.74 19.26 L63.62 19.05 L63.50 18.83 L63.37 18.62 L63.23 18.40 L63.08 18.19 L62.93 17.98 L62.77 17.77 L62.60 17.56 L62.42 17.36 L62.24 17.15 L62.04 16.95 L61.84 16.75 L61.64 16.54 L61.42 16.35 L61.20 16.15 L60.97 15.95 L60.74 15.76 L60.50 15.57 L60.25 15.38 L59.99 15.19 L59.73 15.01 L59.46 14.83 L59.18 14.65 L58.90 14.47 L58.61 14.29 L58.31 14.12 L58.01 13.95 L57.70 13.78 L57.39 13.62 L57.07 13.45 L56.74 13.29 L56.41 13.14 L56.07 12.98 L55.73 12.83 L55.38 12.68 L55.03 12.53 L54.67 12.39 L54.30 12.25 L53.93 12.12 L53.56 11.98 L53.18 11.85 L52.79 11.72 L52.41 11.60 L52.01 11.48 L51.62 11.36 L51.21 11.25 L50.81 11.14 L50.40 11.03 L49.98 10.92 L49.57 10.82 L49.14 10.73 L48.72 10.63 L48.29 10.54 L47.86 10.46 L47.43 10.37 L46.99 10.29 L46.55 10.22 L46.11 10.15 L45.66 10.08 M43.86 9.84 L43.40 9.79 L42.94 9.75 L42.48 9.71 L42.02 9.67 L41.56 9.63 L41.10 9.60 L40.63 9.58 L40.17 9.55 L39.70 9.54 L39.23 9.52 L38.77 9.51 L38.30 9.50 L37.83 9.50 L37.36 9.50 L36.90 9.51 L36.43 9.51 L35.96 9.53 L35.49 9.54 L35.03 9.56 L34.56 9.59 L34.10 9.62 L33.64 9.65 L33.18 9.68 L32.72 9.72 L32.26 9.77 M30.44 9.98 L29.99 10.04 L29.54 10.11 L29.10 10.18 L28.66 10.25 L28.22 10.33 L27.78 10.41 L27.35 10.49 L26.92 10.58 L26.49 10.67 L26.07 10.77 L25.65 10.87 L25.23 10.97 L24.82 11.07 L24.41 11.18 L24.01 11.30 L23.61 11.41 L23.21 11.53 L22.82 11.65 L22.44 11.78 L22.05 11.91 L21.68 12.04 L21.30 12.18 L20.94 12.31 L20.57 12.45 L20.22 12.60 L19.86 12.75 L19.52 12.90 L19.18 13.05 L18.84 13.20 L18.51 13.36 L18.19 13.52 L17.87 13.69 L17.56 13.86 L17.25 14.02 L16.96 14.20 L16.66 14.37 L16.38 14.55 L16.10 14.73 L15.82 14.91 L15.56 15.09 L15.30 15.28 L15.04 15.46 L14.80 15.65 L14.56 15.85 L14.32 16.04 L14.10 16.24 L13.88 16.43 L13.67 16.63 L13.47 16.83 L13.27 17.04 L13.08 17.24 L12.90 17.45 L12.73 17.65 L12.56 17.86 L12.40 18.07 L12.25 18.29 L12.11 18.50 L11.97 18.71 L11.85 18.93 L11.73 19.14 L11.62 19.36 L11.51 19.58 L11.42 19.80 L11.33 20.02 L11.25 20.24 L11.18 20.46 L11.12 20.68 L11.06 20.90 L11.01 21.12 L10.97 21.34 L10.94 21.57 L10.92 21.79 L10.91 22.01 L10.90 22.24 L10.90 22.46 L10.91 22.68 L10.93 22.91 L10.96 23.13 L10.99 23.35 L11.03 23.58 L11.08 23.80 L11.14 24.02 L11.21 24.24 L11.28 24.46 L11.37 24.68 L11.46 24.90 L11.56 25.12 L11.66 25.34 L11.78 25.55 L11.90 25.77 M12.47 26.62 L12.63 26.83 L12.80 27.04 L12.98 27.24 L13.16 27.45 L13.36 27.65 L13.56 27.85 L13.76 28.06 L13.98 28.25 L14.20 28.45 L14.43 28.65 L14.66 28.84 L14.90 29.03 L15.15 29.22 L15.41 29.41 L15.67 29.59 L15.94 29.77 L16.22 29.95 L16.50 30.13 L16.79 30.31 L17.09 30.48 L17.39 30.65 L17.70 30.82 L18.01 30.98 L18.33 31.15 L18.66 31.31 L18.99 31.46 L19.33 31.62 L19.67 31.77 L20.02 31.92 L20.37 32.07 L20.73 32.21 L21.10 32.35 L21.47 32.48 L21.84 32.62 L22.22 32.75 L22.61 32.88 L22.99 33.00 L23.39 33.12 L23.78 33.24 L24.19 33.35 L24.59 33.46 L25.00 33.57 L25.42 33.68 L25.83 33.78 L26.26 33.87 L26.68 33.97 L27.11 34.06 L27.54 34.14 L27.97 34.23 L28.41 34.31 L28.85 34.38 L29.29 34.45 M31.09 34.70 L31.54 34.76 L32.00 34.81 L32.46 34.85 L32.92 34.89 L33.38 34.93 L33.84 34.97 L34.30 35.00 L34.77 35.02 L35.23 35.05 L35.70 35.06 L36.17 35.08 L36.63 35.09 L37.10 35.10 L37.57 35.10 M38.50 35.10 L40.20 35.10 M59.14 19.10 L59.03 18.93 L58.92 18.76 L58.81 18.60 L58.68 18.43 L58.55 18.27 L58.42 18.10 L58.27 17.94 L58.12 17.78 L57.97 17.62 L57.81 17.46 L57.64 17.31 L57.47 17.15 L57.29 16.99 L57.10 16.84 L56.91 16.69 L56.72 16.54 L56.51 16.39 L56.30 16.24 L56.09 16.10 L55.87 15.95 L55.64 15.81 L55.41 15.67 L55.18 15.53 L54.94 15.40 L54.69 15.26 L54.44 15.13 L54.18 15.00 L53.92 14.87 L53.65 14.74 L53.38 14.62 L53.10 14.50 L52.82 14.38 L52.53 14.26 L52.24 14.14 L51.95 14.03 L51.65 13.92 L51.35 13.81 L51.04 13.71 L50.73 13.60 L50.41 13.50 L50.09 13.40 L49.77 13.31 L49.44 13.21 L49.11 13.12 L48.78 13.03 L48.44 12.95 L48.10 12.86 L47.75 12.78 L47.41 12.71 L47.06 12.63 L46.70 12.56 L46.35 12.49 L45.99 12.42 L45.63 12.36 L45.27 12.30 L44.90 12.24 L44.53 12.19 L44.16 12.13 M42.67 11.95 L42.29 11.92 L41.91 11.88 L41.53 11.85 L41.15 11.82 L40.76 11.80 L40.38 11.77 L39.99 11.75 L39.61 11.74 L39.22 11.72 L38.83 11.71 L38.45 11.71 L38.06 11.70 L37.67 11.70 L37.29 11.70 L36.90 11.71 L36.51 11.71 L36.12 11.73 L35.74 11.74 L35.35 11.76 L34.97 11.78 L34.58 11.80 L34.20 11.83 L33.82 11.85 L33.44 11.89 L33.06 11.92 M31.55 12.09 L31.18 12.14 L30.81 12.19 L30.45 12.25 L30.08 12.31 L29.72 12.37 L29.36 12.43 L29.00 12.50 L28.65 12.57 L28.29 12.64 L27.94 12.72 L27.60 12.80 L27.25 12.88 L26.91 12.96 L26.58 13.05 L26.24 13.13 L25.91 13.23 L25.59 13.32 L25.26 13.42 L24.94 13.52 L24.63 13.62 L24.32 13.72 L24.01 13.83 L23.71 13.94 L23.41 14.05 L23.12 14.16 L22.83 14.28 L22.54 14.39 L22.26 14.52 L21.98 14.64 L21.71 14.76 L21.45 14.89 L21.18 15.02 L20.93 15.15 L20.68 15.28 L20.43 15.42 L20.19 15.55 L19.95 15.69 L19.72 15.83 L19.50 15.97 L19.28 16.12 L19.07 16.26 L18.86 16.41 L18.66 16.56 L18.46 16.71 L18.27 16.86 L18.09 17.02 L17.91 17.17 L17.73 17.33 L17.57 17.48 L17.41 17.64 L17.25 17.80 L17.11 17.97 L16.96 18.13 L16.83 18.29 L16.70 18.46 L16.58 18.62 L16.46 18.79 L16.35 18.96 L16.25 19.12 L16.15 19.29 L16.06 19.46 L15.98 19.63 L15.90 19.80 L15.83 19.98 L15.77 20.15 L15.71 20.32 L15.66 20.49 L15.62 20.67 L15.58 20.84 L15.55 21.01 L15.53 21.19 L15.51 21.36 L15.50 21.54 L15.50 21.71 L15.50 21.89 L15.51 22.06 L15.53 22.24 L15.56 22.41 L15.59 22.58 L15.62 22.76 L15.67 22.93 L15.72 23.10 L15.78 23.28 L15.84 23.45 L15.91 23.62 L15.99 23.79 L16.08 23.96 L16.17 24.13 L16.26 24.30 L16.37 24.47 M16.85 25.13 L16.98 25.30 L17.13 25.46 L17.28 25.62 L17.43 25.78 L17.59 25.94 L17.76 26.09 L17.93 26.25 L18.11 26.41 L18.30 26.56 L18.49 26.71 L18.68 26.86 L18.89 27.01 L19.10 27.16 L19.31 27.30 L19.53 27.45 L19.76 27.59 L19.99 27.73 L20.22 27.87 L20.46 28.00 L20.71 28.14 L20.96 28.27 L21.22 28.40 L21.48 28.53 L21.75 28.66 L22.02 28.78 L22.30 28.90 L22.58 29.02 L22.87 29.14 L23.16 29.26 L23.45 29.37 L23.75 29.48 L24.05 29.59 L24.36 29.69 L24.67 29.80 L24.99 29.90 L25.31 30.00 L25.63 30.09 L25.96 30.19 L26.29 30.28 L26.62 30.37 L26.96 30.45 L27.30 30.54 L27.65 30.62 L27.99 30.69 L28.34 30.77 L28.70 30.84 L29.05 30.91 L29.41 30.98 L29.77 31.04 L30.13 31.10 L30.50 31.16 L30.87 31.21 M32.36 31.41 L32.73 31.45 L33.11 31.48 L33.49 31.52 L33.87 31.55 L34.25 31.58 L34.64 31.60 L35.02 31.63 L35.41 31.65 L35.79 31.66 L36.18 31.68 L36.57 31.69 L36.95 31.69 L37.34 31.70 M38.50 31.70 L40.20 31.70 M54.15 18.50 L54.03 18.38 L53.92 18.26 L53.80 18.15 L53.67 18.03 L53.54 17.92 L53.40 17.80 L53.26 17.69 L53.11 17.58 L52.96 17.46 L52.81 17.35 L52.65 17.25 L52.48 17.14 L52.31 17.03 L52.14 16.93 L51.96 16.82 L51.78 16.72 L51.59 16.62 L51.40 16.52 L51.21 16.42 L51.01 16.32 L50.81 16.23 L50.60 16.13 L50.39 16.04 L50.17 15.95 L49.96 15.86 L49.73 15.77 L49.51 15.69 L49.28 15.60 L49.04 15.52 L48.81 15.44 L48.57 15.36 L48.33 15.28 L48.08 15.20 L47.83 15.13 L47.58 15.06 L47.32 14.99 L47.06 14.92 L46.80 14.85 L46.54 14.79 L46.27 14.72 L46.00 14.66 L45.73 14.60 L45.45 14.55 L45.18 14.49 L44.90 14.44 L44.62 14.39 L44.33 14.34 L44.05 14.29 L43.76 14.25 L43.47 14.20 L43.18 14.16 L42.89 14.12 M41.40 13.96 L41.10 13.94 L40.80 13.91 L40.49 13.89 L40.19 13.87 L39.89 13.86 L39.58 13.84 L39.28 13.83 L38.97 13.82 L38.66 13.81 L38.36 13.81 L38.05 13.80 L37.74 13.80 L37.43 13.80 L37.13 13.80 L36.82 13.81 L36.51 13.82 L36.21 13.83 L35.90 13.84 L35.60 13.85 L35.29 13.87 L34.99 13.89 L34.68 13.91 L34.38 13.93 L34.08 13.96 M32.59 14.11 L32.30 14.15 L32.01 14.19 L31.72 14.23 L31.43 14.28 L31.15 14.33 L30.86 14.37 L30.58 14.42 L30.30 14.48 L30.02 14.53 L29.75 14.59 L29.47 14.65 L29.20 14.71 L28.94 14.77 L28.67 14.83 L28.41 14.90 L28.15 14.97 L27.89 15.04 L27.64 15.11 L27.39 15.18 L27.14 15.26 L26.90 15.34 L26.66 15.42 L26.42 15.50 L26.18 15.58 L25.95 15.66 L25.73 15.75 L25.50 15.84 L25.28 15.93 L25.07 16.02 L24.86 16.11 L24.65 16.20 L24.44 16.30 L24.24 16.39 L24.05 16.49 L23.86 16.59 L23.67 16.69 L23.49 16.80 L23.31 16.90 L23.13 17.00 L22.96 17.11 L22.80 17.22 L22.64 17.33 L22.48 17.44 L22.33 17.55 L22.18 17.66 L22.04 17.77 L21.90 17.88 L21.77 18.00 L21.64 18.12 L21.52 18.23 L21.40 18.35 L21.28 18.47 L21.18 18.59 L21.07 18.71 L20.97 18.83 L20.88 18.95 L20.79 19.07 L20.71 19.19 L20.63 19.32 L20.56 19.44 L20.49 19.57 L20.43 19.69 L20.37 19.82 L20.32 19.94 L20.28 20.07 L20.24 20.19 L20.20 20.32 L20.17 20.45 L20.15 20.57 L20.13 20.70 L20.11 20.83 L20.10 20.96 L20.10 21.08 L20.10 21.21 L20.11 21.34 L20.12 21.46 L20.14 21.59 L20.16 21.72 L20.19 21.85 L20.23 21.97 L20.27 22.10 L20.31 22.22 L20.36 22.35 L20.42 22.48 L20.48 22.60 L20.54 22.73 L20.61 22.85 L20.69 22.97 L20.77 23.10 M21.25 23.70 L21.37 23.82 L21.48 23.94 L21.60 24.05 L21.73 24.17 L21.86 24.28 L22.00 24.40 L22.14 24.51 L22.29 24.62 L22.44 24.74 L22.59 24.85 L22.75 24.95 L22.92 25.06 L23.09 25.17 L23.26 25.27 L23.44 25.38 L23.62 25.48 L23.81 25.58 L24.00 25.68 L24.19 25.78 L24.39 25.88 L24.59 25.97 L24.80 26.07 L25.01 26.16 L25.23 26.25 L25.44 26.34 L25.67 26.43 L25.89 26.51 L26.12 26.60 L26.36 26.68 L26.59 26.76 L26.83 26.84 L27.07 26.92 L27.32 27.00 L27.57 27.07 L27.82 27.14 L28.08 27.21 L28.34 27.28 L28.60 27.35 L28.86 27.41 L29.13 27.48 L29.40 27.54 L29.67 27.60 L29.95 27.65 L30.22 27.71 L30.50 27.76 L30.78 27.81 L31.07 27.86 L31.35 27.91 L31.64 27.95 L31.93 28.00 L32.22 28.04 M33.70 28.21 L34.00 28.24 L34.30 28.26 L34.60 28.29 L34.91 28.31 L35.21 28.33 L35.51 28.34 L35.82 28.36 L36.12 28.37 L36.43 28.38 L36.74 28.39 L37.04 28.39 L37.35 28.40 L37.66 28.40 M38.50 28.40 L40.20 28.40 M48.63 17.90 L48.50 17.83 L48.38 17.76 L48.24 17.69 L48.11 17.62 L47.97 17.56 L47.83 17.49 L47.69 17.43 L47.54 17.36 L47.39 17.30 L47.24 17.24 L47.08 17.18 L46.92 17.12 L46.76 17.06 L46.60 17.00 L46.43 16.94 L46.26 16.89 L46.09 16.83 L45.92 16.78 L45.74 16.73 L45.56 16.68 L45.38 16.63 L45.19 16.58 L45.01 16.53 L44.82 16.48 L44.63 16.44 L44.43 16.39 L44.24 16.35 L44.04 16.31 L43.84 16.27 L43.64 16.23 L43.44 16.19 L43.24 16.16 L43.03 16.12 L42.82 16.09 L42.61 16.06 L42.40 16.02 L42.19 16.00 L41.98 15.97 L41.76 15.94 M40.23 15.79 L40.00 15.78 L39.78 15.76 L39.55 15.75 L39.33 15.74 L39.10 15.73 L38.88 15.72 L38.65 15.71 L38.43 15.71 L38.20 15.70 L37.97 15.70 L37.75 15.70 L37.52 15.70 L37.29 15.70 L37.07 15.71 L36.84 15.71 L36.61 15.72 L36.39 15.72 L36.16 15.73 L35.94 15.74 L35.71 15.76 L35.49 15.77 L35.26 15.78 M33.73 15.93 L33.51 15.96 L33.30 15.98 L33.08 16.01 L32.87 16.04 L32.66 16.07 L32.45 16.11 L32.25 16.14 L32.04 16.18 L31.84 16.22 L31.64 16.25 L31.44 16.29 L31.24 16.33 L31.04 16.38 L30.85 16.42 L30.66 16.47 L30.47 16.51 L30.28 16.56 L30.10 16.61 L29.91 16.66 L29.73 16.71 L29.55 16.76 L29.38 16.81 L29.21 16.87 L29.04 16.92 L28.87 16.98 L28.70 17.04 L28.54 17.09 L28.38 17.15 L28.22 17.21 L28.07 17.28 L27.92 17.34 L27.77 17.40 L27.63 17.47 L27.48 17.53 L27.35 17.60 L27.21 17.66 L27.08 17.73 L26.95 17.80 L26.82 17.87 L26.70 17.94 L26.58 18.01 L26.46 18.09 L26.35 18.16 L26.24 18.23 L26.14 18.31 L26.04 18.38 L25.94 18.46 L25.84 18.53 L25.75 18.61 L25.66 18.69 L25.58 18.76 L25.50 18.84 L25.42 18.92 L25.35 19.00 L25.28 19.08 L25.22 19.16 L25.15 19.24 L25.10 19.32 L25.04 19.40 L24.99 19.49 L24.95 19.57 L24.91 19.65 L24.87 19.73 L24.83 19.82 L24.80 19.90 L24.78 19.98 L24.75 20.06 L24.73 20.15 L24.72 20.23 L24.71 20.32 L24.70 20.40 L24.70 20.48 L24.70 20.57 L24.71 20.65 L24.72 20.73 L24.73 20.82 L24.75 20.90 L24.77 20.98 L24.79 21.07 L24.82 21.15 L24.85 21.23 L24.89 21.32 L24.93 21.40 L24.97 21.48 L25.02 21.56 L25.08 21.64 L25.13 21.73 M25.63 22.28 L25.72 22.36 L25.81 22.44 L25.90 22.51 L26.00 22.59 L26.10 22.66 L26.20 22.74 L26.31 22.81 L26.42 22.89 L26.53 22.96 L26.65 23.03 L26.77 23.10 L26.90 23.17 L27.02 23.24 L27.16 23.31 L27.29 23.38 L27.43 23.44 L27.57 23.51 L27.71 23.57 L27.86 23.64 L28.01 23.70 L28.16 23.76 L28.32 23.82 L28.48 23.88 L28.64 23.94 L28.80 24.00 L28.97 24.06 L29.14 24.11 L29.31 24.17 L29.48 24.22 L29.66 24.27 L29.84 24.32 L30.02 24.37 L30.21 24.42 L30.39 24.47 L30.58 24.52 L30.77 24.56 L30.97 24.61 L31.16 24.65 L31.36 24.69 L31.56 24.73 L31.76 24.77 L31.96 24.81 L32.16 24.84 L32.37 24.88 L32.58 24.91 L32.79 24.94 L33.00 24.98 L33.21 25.00 L33.42 25.03 M34.95 25.19 L35.17 25.21 L35.40 25.22 L35.62 25.24 L35.85 25.25 L36.07 25.26 L36.30 25.27 L36.52 25.28 L36.75 25.29 L36.97 25.29 L37.20 25.30 L37.43 25.30 L37.65 25.30 M38.50 25.30 L40.20 25.30" fill="none" stroke="#9ea1a4" stroke-width="1.4"/>
<rect x="40.200000000000045" y="21.700000000000045" width="28.7" height="19.1" fill="#1f4e9f"/>
<g fill="#f2d43c"><circle cx="60.90" cy="31.30" r="0.6"/><circle cx="60.04" cy="34.50" r="0.6"/><circle cx="57.70" cy="36.84" r="0.6"/><circle cx="54.50" cy="37.70" r="0.6"/><circle cx="51.30" cy="36.84" r="0.6"/><circle cx="48.96" cy="34.50" r="0.6"/><circle cx="48.10" cy="31.30" r="0.6"/><circle cx="48.96" cy="28.10" r="0.6"/><circle cx="51.30" cy="25.76" r="0.6"/><circle cx="54.50" cy="24.90" r="0.6"/><circle cx="57.70" cy="25.76" r="0.6"/><circle cx="60.04" cy="28.10" r="0.6"/></g>
<text x="78.20000000000005" y="25.700000000000045" font-family="Liberation Sans" font-weight="700" font-size="14.5" fill="#6d7277" textLength="86.3" lengthAdjust="spacingAndGlyphs">Parlamentul</text>
<text x="78.20000000000005" y="40.799999999999955" font-family="Liberation Sans" font-weight="700" font-size="14.5" fill="#6d7277" textLength="68.3" lengthAdjust="spacingAndGlyphs">European</text>
</svg>
</body></html>
